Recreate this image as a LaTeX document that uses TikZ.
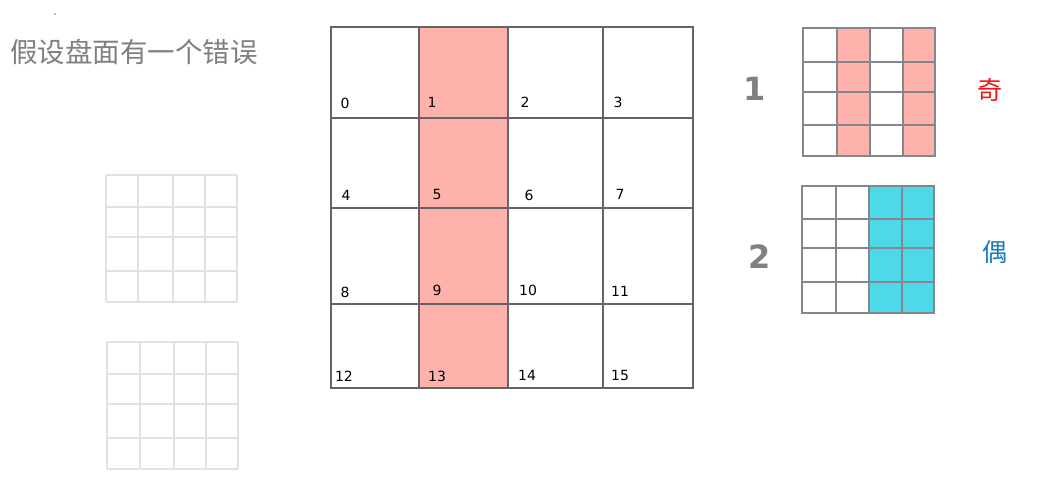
\documentclass[tikz,border=0pt]{standalone}
\usepackage{fontspec}
\setmainfont{DejaVu Sans}
\newfontfamily\cjk{Noto Sans CJK SC}
\definecolor{pinkc}{RGB}{255,178,172}
\definecolor{cyanc}{RGB}{77,217,232}
\definecolor{gridc}{RGB}{100,100,100}
\definecolor{smallgrid}{RGB}{130,136,142}
\definecolor{faint}{RGB}{226,226,226}
\definecolor{titlec}{RGB}{128,128,128}
\definecolor{oddc}{RGB}{240,20,20}
\definecolor{evenc}{RGB}{20,125,190}
\tikzset{
  numlbl/.style={font=\fontsize{14}{14}\selectfont, text=black, inner sep=0pt},
  biglbl/.style={font=\fontsize{32}{32}\selectfont\bfseries, text=titlec, inner sep=0pt},
  cjklbl/.style={font=\cjk\fontsize{25}{25}\selectfont, inner sep=0pt},
}
\begin{document}
\begin{tikzpicture}[x=1pt,y=-1pt]
\useasboundingbox[fill=white] (0,0) rectangle (1042,491);
% title
\node[text=titlec, anchor=west, inner sep=0pt, font=\cjk\fontsize{27.5}{27.5}\selectfont] (title) at (10,52) {假设盘面有一个错误};
\fill[titlec] (55,14) circle (0.8);
% faint grids
\begin{scope}[draw=faint, line width=2pt]
\foreach \x in {105.7,138.3,172.7,204.7,237} \draw (\x,174.7) -- (\x,301.7);
\foreach \y in {174.7,207.3,236.7,270.7,301.7} \draw (105.7,\y) -- (237,\y);
\foreach \x in {107.3,140.3,174.3,206.3,238.3} \draw (\x,341.7) -- (\x,469.3);
\foreach \y in {341.7,374.3,404,437.7,469.3} \draw (107.3,\y) -- (238.3,\y);
\end{scope}
% main grid
\fill[pinkc] (419.3,26.7) rectangle (508.3,388.3);
\begin{scope}[draw=gridc, line width=1.8pt, line cap=rect]
\foreach \x in {330.7,419.3,508.3,602.7,693.3} \draw (\x,26.7) -- (\x,388.3);
\foreach \y in {26.7,117.7,207.7,304.3,388.3} \draw (330.7,\y) -- (693.3,\y);
\end{scope}
\node[numlbl] (n0) at (345,103) {0};
\node[numlbl] (n1) at (432,102) {1};
\node[numlbl] (n2) at (525,102) {2};
\node[numlbl] (n3) at (618,102) {3};
\node[numlbl] (n4) at (346,195) {4};
\node[numlbl] (n5) at (437,194) {5};
\node[numlbl] (n6) at (529,195) {6};
\node[numlbl] (n7) at (620,194) {7};
\node[numlbl] (n8) at (345,292) {8};
\node[numlbl] (n9) at (437,290) {9};
\node[numlbl] (n10) at (528,290) {10};
\node[numlbl] (n11) at (620,291) {11};
\node[numlbl] (n12) at (344,376) {12};
\node[numlbl] (n13) at (437,376) {13};
\node[numlbl] (n14) at (527,375) {14};
\node[numlbl] (n15) at (620,375) {15};
% right grid 1
\fill[pinkc] (836.7,28.3) rectangle (870,156);
\fill[pinkc] (902.7,28.3) rectangle (935,156);
\begin{scope}[draw=smallgrid, line width=1.7pt, line cap=rect]
\foreach \x in {803.3,836.7,870,902.7,935} \draw (\x,28.3) -- (\x,156);
\foreach \y in {28.3,61.7,91.7,125,156} \draw (803.3,\y) -- (935,\y);
\end{scope}
% right grid 2
\fill[cyanc] (869,185.7) rectangle (934,313.3);
\begin{scope}[draw=smallgrid, line width=1.7pt, line cap=rect]
\foreach \x in {802.3,835.7,869,901.7,934} \draw (\x,185.7) -- (\x,313.3);
\foreach \y in {185.7,219,248.3,282.3,313.3} \draw (802.3,\y) -- (934,\y);
\end{scope}
\node[biglbl] (one) at (755,89) {1};
\node[biglbl] (two) at (760,257) {2};
\node[cjklbl, text=oddc] (odd) at (990,90) {奇};
\node[cjklbl, text=evenc] (even) at (995,252) {偶};
\end{tikzpicture}
\end{document}
